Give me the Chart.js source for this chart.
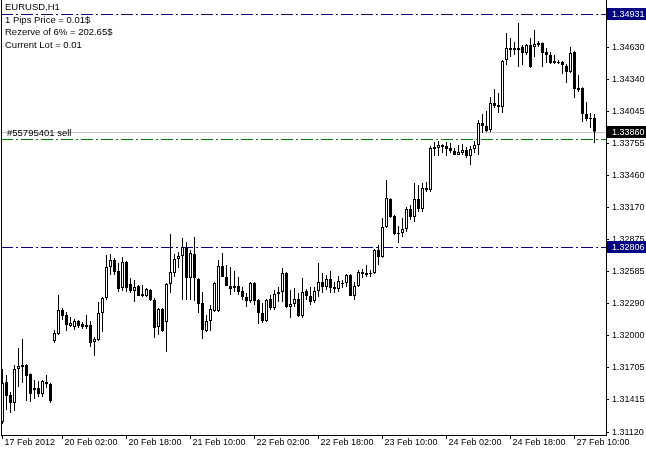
<!DOCTYPE html>
<html>
<head>
<meta charset="utf-8">
<script src="https://cdn.jsdelivr.net/npm/chart.js@4/dist/chart.umd.min.js"></script>
<style>
  html, body { margin: 0; padding: 0; background: #fff; }
  #wrap { width: 646px; height: 449px; }
</style>
</head>
<body>
<div id="wrap"><canvas id="chart" width="646" height="449"></canvas></div>
<script>
// EURUSD H1, hourly bars, trading hours per day
const sessions = [
  ["17 Feb", 11, 23], ["20 Feb", 0, 23], ["21 Feb", 0, 23], ["22 Feb", 0, 23],
  ["23 Feb", 0, 23], ["24 Feb", 0, 23], ["27 Feb", 0, 15]
];
const tickLabels = ["17 Feb 2012", "20 Feb 02:00", "20 Feb 18:00", "21 Feb 10:00", "22 Feb 02:00",
  "22 Feb 18:00", "23 Feb 10:00", "24 Feb 02:00", "24 Feb 18:00", "27 Feb 10:00"];
const priceTicks = [1.34630, 1.34340, 1.34045, 1.33755, 1.33460, 1.33170, 1.32875,
  1.32585, 1.32290, 1.32000, 1.31705, 1.31415, 1.31120];

const open = [
  1.31212,1.31577,1.31458,1.31385,1.31695,1.31713,1.31731,1.31650,1.31504,1.31522,1.31467,1.31577,1.31558,
  1.31951,1.32015,1.32234,1.32188,1.32088,1.32079,1.32133,1.32106,1.32097,1.32097,1.31942,1.31960,1.32206,
  1.32343,1.32626,1.32690,1.32590,1.32434,1.32672,1.32471,1.32407,1.32452,1.32379,1.32361,1.32416,1.32325,
  1.32079,1.32243,1.32124,1.32471,1.32572,1.32699,1.32726,1.32808,1.32526,1.32745,1.32517,1.32297,1.32042,
  1.32133,1.32224,1.32224,1.32635,1.32535,1.32452,1.32452,1.32452,1.32407,1.32352,1.32316,1.32480,1.32325,
  1.32206,1.32133,1.32334,1.32252,1.32379,1.32398,1.32572,1.32261,1.32288,1.32334,1.32179,1.32407,1.32361,
  1.32316,1.32407,1.32489,1.32443,1.32517,1.32425,1.32425,1.32471,1.32480,1.32553,1.32361,1.32452,1.32581,
  1.32572,1.32562,1.32572,1.32781,1.32717,1.32991,1.33246,1.33091,1.32936,1.32936,1.32973,1.33155,1.33082,
  1.33246,1.33155,1.33347,1.33328,1.33721,1.33712,1.33739,1.33730,1.33712,1.33684,1.33648,1.33666,1.33693,
  1.33639,1.33703,1.33739,1.33940,1.33912,1.33876,1.34122,1.34104,1.34086,1.34515,1.34624,1.34624,1.34606,
  1.34633,1.34578,1.34651,1.34633,1.34670,1.34670,1.34588,1.34560,1.34506,1.34496,1.34496,1.34460,1.34405,
  1.34588,1.34259,1.34259,1.34022,1.33985,1.33985
];
const high = [
  1.31695,1.31640,1.31486,1.31731,1.31887,1.31969,1.31740,1.31655,1.31595,1.31586,1.31595,1.31640,1.31568,
  1.32051,1.32370,1.32252,1.32215,1.32170,1.32151,1.32142,1.32124,1.32188,1.32133,1.31987,1.32307,1.32352,
  1.32735,1.32745,1.32708,1.32663,1.32717,1.32680,1.32526,1.32507,1.32462,1.32462,1.32434,1.32425,1.32343,
  1.32252,1.32252,1.32480,1.32927,1.32745,1.32763,1.32890,1.32854,1.32781,1.32900,1.32526,1.32398,1.32188,
  1.32279,1.32489,1.32690,1.32754,1.32644,1.32626,1.32590,1.32535,1.32443,1.32388,1.32489,1.32489,1.32334,
  1.32297,1.32334,1.32370,1.32416,1.32443,1.32617,1.32581,1.32416,1.32434,1.32388,1.32526,1.32425,1.32443,
  1.32443,1.32663,1.32572,1.32553,1.32590,1.32489,1.32544,1.32507,1.32562,1.32562,1.32489,1.32599,1.32608,
  1.32644,1.32599,1.32790,1.32826,1.33073,1.33419,1.33255,1.33100,1.33000,1.33073,1.33173,1.33191,1.33392,
  1.33374,1.33392,1.33401,1.33730,1.33766,1.33775,1.33745,1.33766,1.33757,1.33712,1.33739,1.33748,1.33721,
  1.33730,1.33775,1.33967,1.34022,1.34049,1.34177,1.34250,1.34214,1.34515,1.34761,1.34715,1.34679,1.34852,
  1.34651,1.34660,1.34715,1.34788,1.34688,1.34675,1.34624,1.34588,1.34560,1.34515,1.34506,1.34478,1.34633,
  1.34597,1.34378,1.34265,1.34131,1.34031,1.34022
];
const low = [
  1.31194,1.31321,1.31294,1.31312,1.31531,1.31568,1.31403,1.31394,1.31422,1.31440,1.31440,1.31522,1.31385,
  1.31933,1.32005,1.32142,1.32042,1.32079,1.32051,1.32069,1.32060,1.32060,1.31896,1.31814,1.31951,1.32033,
  1.32325,1.32553,1.32553,1.32398,1.32407,1.32398,1.32388,1.32307,1.32361,1.32352,1.32352,1.32316,1.31978,
  1.32005,1.32033,1.31850,1.32388,1.32535,1.32617,1.32325,1.32325,1.32325,1.32316,1.32206,1.31969,1.32033,
  1.32042,1.32215,1.32215,1.32535,1.32452,1.32370,1.32398,1.32370,1.32325,1.32261,1.32297,1.32279,1.32106,
  1.32115,1.32124,1.32234,1.32234,1.32307,1.32307,1.32252,1.32160,1.32261,1.32170,1.32160,1.32325,1.32279,
  1.32297,1.32352,1.32388,1.32416,1.32388,1.32388,1.32398,1.32434,1.32443,1.32361,1.32325,1.32443,1.32526,
  1.32535,1.32535,1.32562,1.32644,1.32710,1.32982,1.33073,1.32918,1.32845,1.32900,1.32945,1.33055,1.33036,
  1.33128,1.33128,1.33310,1.33310,1.33639,1.33639,1.33666,1.33639,1.33666,1.33648,1.33648,1.33648,1.33620,
  1.33557,1.33666,1.33648,1.33849,1.33858,1.33858,1.34076,1.34031,1.34031,1.34469,1.34542,1.34560,1.34451,
  1.34469,1.34560,1.34442,1.34542,1.34633,1.34451,1.34487,1.34478,1.34478,1.34478,1.34387,1.34305,1.34396,
  1.34168,1.34223,1.33949,1.33958,1.33894,1.33757
];
const close = [
  1.31568,1.31449,1.31385,1.31695,1.31722,1.31731,1.31631,1.31467,1.31522,1.31467,1.31586,1.31558,1.31403,
  1.32024,1.32234,1.32179,1.32097,1.32115,1.32133,1.32088,1.32079,1.32079,1.31933,1.31969,1.32206,1.32343,
  1.32626,1.32690,1.32581,1.32425,1.32672,1.32434,1.32407,1.32443,1.32361,1.32361,1.32425,1.32325,1.32069,
  1.32243,1.32042,1.32471,1.32581,1.32699,1.32726,1.32808,1.32526,1.32754,1.32526,1.32288,1.32051,1.32133,
  1.32243,1.32480,1.32635,1.32535,1.32452,1.32425,1.32434,1.32398,1.32352,1.32316,1.32480,1.32316,1.32206,
  1.32133,1.32325,1.32252,1.32379,1.32398,1.32572,1.32261,1.32288,1.32334,1.32179,1.32398,1.32361,1.32307,
  1.32407,1.32489,1.32443,1.32517,1.32434,1.32443,1.32498,1.32480,1.32553,1.32361,1.32452,1.32581,1.32562,
  1.32553,1.32572,1.32781,1.32717,1.32991,1.33255,1.33082,1.32927,1.32927,1.32973,1.33155,1.33082,1.33246,
  1.33155,1.33347,1.33328,1.33712,1.33703,1.33739,1.33721,1.33703,1.33684,1.33648,1.33675,1.33693,1.33639,
  1.33703,1.33739,1.33940,1.33912,1.33867,1.34122,1.34095,1.34086,1.34506,1.34624,1.34606,1.34606,1.34624,
  1.34578,1.34651,1.34451,1.34660,1.34651,1.34578,1.34560,1.34487,1.34487,1.34487,1.34469,1.34405,1.34578,
  1.34250,1.34241,1.34022,1.33976,1.33976,1.33860
];

// horizontal levels on the chart
const navyLevels = [1.34931, 1.32806];
const bidPrice = 1.33860;
const sellOrderPrice = 1.33792;
const sellOrderText = "#55795401 sell";
const infoLines = ["EURUSD,H1", "1 Pips Price = 0.01$", "Rezerve of 6% = 202.65$", "Current Lot = 0.01"];

const FONT = "'Liberation Sans', Arial, sans-serif";
const NAVY = "#000080";

const barTimes = [];
sessions.forEach(([day, h0, h1]) => {
  for (let h = h0; h <= h1; h++) barTimes.push(day + " " + String(h).padStart(2, "0") + ":00");
});
// first label shows the date + year instead of the hour
const tickBars = tickLabels.map((t, k) => (k === 0 ? 0 : barTimes.indexOf(t)));

const idx = barTimes.map((_, i) => i);
const isBull = (i) => close[i] >= open[i];

// keep the plot area flush with the frame, MT4 style
const noPad = (s) => { s.paddingTop = 0; s.paddingBottom = 0; s.paddingLeft = 0; s.paddingRight = 0; };

const overlay = {
  id: "overlay",
  beforeDatasetsDraw(chart) {
    const { ctx, chartArea: a, scales: { y } } = chart;
    const lineY = (p) => Math.round(y.getPixelForValue(p)) + 0.5;
    ctx.save();
    ctx.lineWidth = 1;

    // bid line
    ctx.strokeStyle = "#c0c0c0";
    ctx.beginPath();
    ctx.moveTo(a.left, lineY(bidPrice));
    ctx.lineTo(a.right, lineY(bidPrice));
    ctx.stroke();

    // order / level lines
    ctx.setLineDash([12, 3, 2, 3]);
    ctx.strokeStyle = "#008000";
    ctx.beginPath();
    ctx.moveTo(a.left, lineY(sellOrderPrice));
    ctx.lineTo(a.right, lineY(sellOrderPrice));
    ctx.stroke();

    ctx.strokeStyle = NAVY;
    navyLevels.forEach((p) => {
      ctx.beginPath();
      ctx.moveTo(a.left, lineY(p));
      ctx.lineTo(a.right, lineY(p));
      ctx.stroke();
    });
    ctx.restore();
  },
  afterDraw(chart) {
    const { ctx, chartArea: a, scales: { y } } = chart;
    ctx.save();

    // frame, left side
    ctx.strokeStyle = "#000";
    ctx.lineWidth = 1;
    ctx.beginPath();
    ctx.moveTo(a.left + 0.5, a.top);
    ctx.lineTo(a.left + 0.5, a.bottom);
    ctx.stroke();

    // price boxes on the axis
    ctx.font = "9px " + FONT;
    ctx.textBaseline = "middle";
    ctx.textAlign = "left";
    const box = (p, bg) => {
      const py = Math.round(y.getPixelForValue(p));
      ctx.fillStyle = bg;
      ctx.fillRect(a.right + 1, py - 6, chart.width - a.right - 1, 12);
      ctx.fillStyle = "#fff";
      ctx.fillText(p.toFixed(5), a.right + 6, py + 0.5);
    };
    navyLevels.forEach((p) => box(p, NAVY));
    box(bidPrice, "#000");

    // info text, top left
    ctx.fillStyle = "#000";
    ctx.textBaseline = "alphabetic";
    ctx.font = "9.5px " + FONT;
    const rows = [10, 22.5, 35, 47.5];
    infoLines.forEach((t, k) => ctx.fillText(t, a.left + 4, rows[k]));

    // order label above its line
    ctx.fillText(sellOrderText, a.left + 6, Math.round(y.getPixelForValue(sellOrderPrice)) - 3);
    ctx.restore();
  }
};

new Chart(document.getElementById("chart"), {
  type: "bar",
  data: {
    datasets: [
      {
        label: "body",
        order: 0,
        data: idx.map((i) => ({ x: i, y: [open[i], close[i]] })),
        backgroundColor: (c) => (isBull(c.dataIndex) ? "#ffffff" : "#000000"),
        borderColor: "#000000",
        borderWidth: 1,
        borderSkipped: false,
        barThickness: 3,
        minBarLength: 1,
        inflateAmount: 0,
        grouped: false
      },
      {
        label: "wick",
        order: 1,
        data: idx.map((i) => ({ x: i, y: [low[i], high[i]] })),
        backgroundColor: "#000000",
        borderWidth: 0,
        barThickness: 1,
        inflateAmount: 0,
        grouped: false
      }
    ]
  },
  options: {
    responsive: false,
    devicePixelRatio: 1,
    animation: false,
    layout: { padding: { left: 1, top: 0, right: 0, bottom: 0 } },
    plugins: { legend: { display: false }, tooltip: { enabled: false } },
    scales: {
      x: {
        type: "linear",
        min: -0.375,
        max: 150.875,
        offset: false,
        afterBuildTicks: (s) => { s.ticks = tickBars.map((v) => ({ value: v })); },
        afterFit: (s) => { s.height = 14; noPad(s); },
        ticks: {
          autoSkip: false,
          maxRotation: 0,
          align: "start",
          labelOffset: 2,
          padding: -2,
          color: "#000",
          font: { family: FONT, size: 9 },
          callback: (v, k) => tickLabels[k]
        },
        grid: { drawOnChartArea: false, offset: false, color: "#000", tickLength: 4 },
        border: { display: true, color: "#000" }
      },
      y: {
        position: "right",
        min: 1.31093,
        max: 1.35062,
        afterBuildTicks: (s) => { s.ticks = priceTicks.map((v) => ({ value: v })); },
        afterFit: (s) => { s.width = 40; noPad(s); },
        ticks: {
          autoSkip: false,
          padding: 3,
          color: "#000",
          font: { family: FONT, size: 9 },
          callback: (v) => v.toFixed(5)
        },
        grid: { drawOnChartArea: false, color: "#000", tickLength: 3 },
        border: { display: true, color: "#000" }
      }
    }
  },
  plugins: [overlay]
});
</script>
</body>
</html>
